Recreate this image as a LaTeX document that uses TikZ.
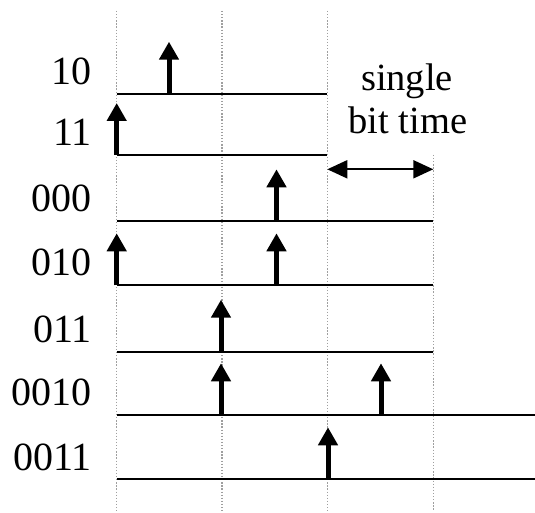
\documentclass[tikz,border=0pt]{standalone}
\usepackage{fontspec}
\setmainfont{Liberation Serif}
\usetikzlibrary{arrows.meta}
\begin{document}
\begin{tikzpicture}[x=1pt,y=-1pt,
  gridline/.style={draw=gray!75, line width=1.5pt, dash pattern=on 1.3pt off 1.8pt},
  timeline/.style={draw=black, line width=2.3pt},
  pulse/.style={draw=black, line width=5pt, -{Triangle[length=18pt,width=19pt]}},
  lbl/.style={anchor=base east, inner sep=0pt, font=\fontsize{40}{44}\selectfont},
  note/.style={anchor=base, inner sep=0pt, font=\fontsize{38.5}{42.6}\selectfont},
  span/.style={draw=black, line width=2pt, {Triangle[length=20pt,width=18pt]}-{Triangle[length=20pt,width=18pt]}}
]
\useasboundingbox (0,0) rectangle (535,513);

% vertical dotted grid
\coordinate (g1t) at (116.5,11);  \coordinate (g1b) at (116.5,511);
\coordinate (g2t) at (222,11);    \coordinate (g2b) at (222,511);
\coordinate (g3t) at (327.3,11);  \coordinate (g3b) at (327.3,511);
\coordinate (g4t) at (433.3,155); \coordinate (g4b) at (433.3,511);
\draw[gridline] (g1t) -- (g1b);
\draw[gridline] (g2t) -- (g2b);
\draw[gridline] (g3t) -- (g3b);
\draw[gridline] (g4t) -- (g4b);

% row lines
\coordinate (r1a) at (116.5,93.7);  \coordinate (r1b) at (327.3,93.7);
\coordinate (r2a) at (116.5,155);   \coordinate (r2b) at (327.3,155);
\coordinate (r3a) at (116.5,221.3); \coordinate (r3b) at (433.3,221.3);
\coordinate (r4a) at (116.5,285.3); \coordinate (r4b) at (433.3,285.3);
\coordinate (r5a) at (116.5,351.7); \coordinate (r5b) at (433.3,351.7);
\coordinate (r6a) at (116.5,415.3); \coordinate (r6b) at (535,415.3);
\coordinate (r7a) at (116.5,479.3); \coordinate (r7b) at (535,479.3);
\foreach \r in {1,...,7} {\draw[timeline] (r\r a) -- (r\r b);}

% labels
\node[lbl] (l1) at (92,84.3)  {10};
\node[lbl] (l2) at (92,145.6) {11};
\node[lbl] (l3) at (92,211.2) {000};
\node[lbl] (l4) at (92,275.9) {010};
\node[lbl] (l5) at (92,342.3) {011};
\node[lbl] (l6) at (92,405.9) {0010};
\node[lbl] (l7) at (92,470.8) {0011};

% pulses
\coordinate (p1s) at (169,93.7);    \coordinate (p1e) at (169,41.7);
\coordinate (p2s) at (116.7,155);   \coordinate (p2e) at (116.7,103);
\coordinate (p3s) at (276.5,221.3); \coordinate (p3e) at (276.5,169.3);
\coordinate (p4s) at (116.7,285.3); \coordinate (p4e) at (116.7,233.3);
\coordinate (p5s) at (276.5,285.3); \coordinate (p5e) at (276.5,233.3);
\coordinate (p6s) at (221,351.7);   \coordinate (p6e) at (221,299.7);
\coordinate (p7s) at (221,415.3);   \coordinate (p7e) at (221,363.3);
\coordinate (p8s) at (381,415.3);   \coordinate (p8e) at (381,363.3);
\coordinate (p9s) at (328,479.3);   \coordinate (p9e) at (328,427.3);
\foreach \p in {1,...,9} {\draw[pulse] (p\p s) -- (p\p e);}

% single bit time
\node[note] (n1) at (407,90.7)  {single};
\node[note] (n2) at (408,133.3) {bit time};
\coordinate (sa) at (327.3,169.3);
\coordinate (sb) at (433.3,169.3);
\draw[span] (sa) -- (sb);
\end{tikzpicture}
\end{document}
